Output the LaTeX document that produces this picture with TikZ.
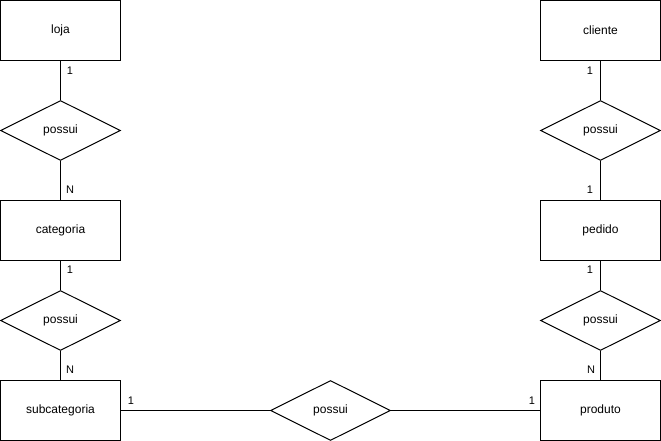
\documentclass[tikz,border=0pt]{standalone}
\usepackage{fontspec}
\setmainfont{Liberation Sans}
\usetikzlibrary{shapes.geometric}
\begin{document}
\begin{tikzpicture}[x=1pt,y=-1pt,line width=1pt,
  ent/.style={draw,rectangle,minimum width=120pt,minimum height=60pt,inner sep=0pt,font=\fontsize{12}{14}\selectfont},
  rel/.style={draw,diamond,minimum width=120pt,minimum height=60pt,inner sep=0pt,font=\fontsize{12}{14}\selectfont},
  card/.style={font=\fontsize{11}{13}\selectfont,inner sep=0pt}]
\useasboundingbox (0,0) rectangle (661,441);
\node[ent] (loja) at (60.5,30.5) {loja};
\node[rel] (r1) at (60.5,130.5) {possui};
\node[ent] (cat) at (60.5,230.5) {categoria};
\node[rel] (r2) at (60.5,320.5) {possui};
\node[ent] (sub) at (60.5,410.5) {subcategoria};
\node[ent] (cli) at (600.5,30.5) {cliente};
\node[rel] (r3) at (600.5,130.5) {possui};
\node[ent] (ped) at (600.5,230.5) {pedido};
\node[rel] (r4) at (600.5,320.5) {possui};
\node[ent] (prod) at (600.5,410.5) {produto};
\node[rel] (r5) at (330.5,410.5) {possui};
\draw (loja) -- (r1);
\draw (r1) -- (cat);
\draw (cat) -- (r2);
\draw (r2) -- (sub);
\draw (cli) -- (r3);
\draw (r3) -- (ped);
\draw (ped) -- (r4);
\draw (r4) -- (prod);
\draw (sub) -- (r5);
\draw (r5) -- (prod);
\node[card] (c1) at (70,71) {1};
\node[card] (c2) at (70,190) {N};
\node[card] (c3) at (70,270) {1};
\node[card] (c4) at (70,370) {N};
\node[card] (c5) at (590,71) {1};
\node[card] (c6) at (590,190) {1};
\node[card] (c7) at (590,270) {1};
\node[card] (c8) at (591,370) {N};
\node[card] (c9) at (131,401) {1};
\node[card] (c10) at (532,401) {1};
\end{tikzpicture}
\end{document}
